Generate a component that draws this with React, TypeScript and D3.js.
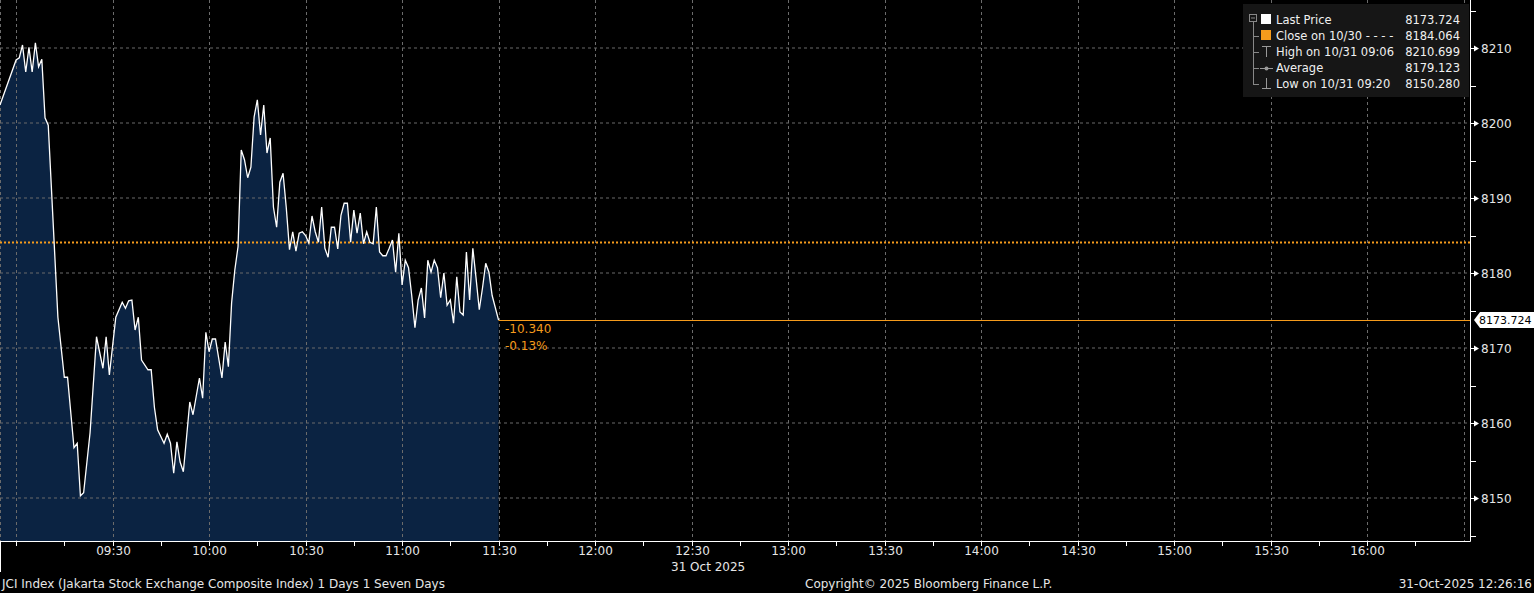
import React from "react";
import * as d3 from "d3";

const times: string[] = [
  "08:55","09:00","09:01","09:02","09:03","09:04","09:05","09:06","09:07","09:08","09:09","09:10",
  "09:13","09:15","09:16","09:18","09:19","09:20","09:21","09:23","09:25","09:27","09:28","09:29",
  "09:31","09:33","09:34","09:35","09:36","09:37","09:38","09:39","09:41","09:42","09:43","09:44",
  "09:46","09:47","09:48","09:49","09:50","09:51","09:52","09:53","09:54","09:55","09:57","09:58",
  "09:59","10:00","10:01","10:02","10:04","10:05","10:06","10:07","10:08","10:09","10:10","10:11",
  "10:12","10:13","10:14","10:15","10:16","10:17","10:18","10:19","10:20","10:21","10:22","10:23",
  "10:24","10:25","10:26","10:27","10:28","10:29","10:30","10:31","10:32","10:33","10:34","10:35",
  "10:36","10:37","10:38","10:39","10:40","10:41","10:42","10:43","10:44","10:45","10:46","10:47",
  "10:48","10:49","10:50","10:51","10:52","10:53","10:54","10:55","10:56","10:57","10:58","10:59",
  "11:00","11:01","11:02","11:03","11:04","11:05","11:06","11:07","11:08","11:09","11:10","11:11",
  "11:12","11:13","11:14","11:15","11:16","11:17","11:18","11:19","11:20","11:21","11:22","11:23",
  "11:24","11:25","11:26","11:27","11:28","11:30"
];
const prices: number[] = [
  8202.4,8208.4,8208.7,8210.4,8206.8,8210.1,8206.8,8210.7,8207.5,8208.5,8200.7,8199.7,
  8174.1,8166.1,8166.1,8156.7,8157.3,8150.3,8150.7,8158.7,8171.5,8167.3,8171.5,8166.4,
  8174.1,8176.1,8175.3,8176.3,8176.4,8172.4,8174.1,8168.4,8167.1,8167.1,8162.1,8159.1,
  8157.3,8158.5,8157.3,8153.3,8157.5,8154.8,8153.5,8158.1,8162.8,8161.1,8166.0,8163.3,
  8172.1,8169.5,8171.2,8171.2,8166.0,8170.8,8167.5,8176.0,8180.4,8183.5,8196.4,8195.1,
  8192.7,8194.1,8200.8,8203.1,8198.4,8202.4,8196.0,8198.0,8188.8,8186.1,8192.1,8193.3,
  8188.7,8183.1,8185.5,8182.9,8185.3,8185.5,8185.0,8184.0,8187.6,8185.5,8184.1,8188.8,
  8183.3,8182.1,8186.1,8186.1,8183.2,8187.7,8189.3,8189.3,8184.1,8188.4,8185.3,8188.0,
  8183.9,8185.5,8184.1,8183.9,8188.8,8182.8,8182.3,8182.3,8183.3,8184.4,8180.1,8185.3,
  8178.4,8181.7,8180.7,8177.0,8172.7,8176.4,8178.0,8174.0,8181.7,8180.1,8181.7,8180.7,
  8176.7,8180.0,8175.7,8176.4,8173.3,8179.5,8174.8,8174.4,8182.8,8176.4,8183.3,8179.3,
  8175.1,8178.0,8181.3,8180.1,8177.0,8173.724
];

const yTicks: number[] = [8150, 8160, 8170, 8180, 8190, 8200, 8210];
const yMinorTicks: number[] = [8145, 8155, 8165, 8175, 8185, 8195, 8205, 8215];
const xTickLabels: string[] = ["09:30","10:00","10:30","11:00","11:30","12:00","12:30","13:00","13:30","14:00","14:30","15:00","15:30","16:00"];
const xGridTimes: string[] = ["09:00","09:30","10:00","10:30","11:00","11:30","12:00","12:30","13:00","13:30","14:00","14:30","15:00","15:30","16:00","16:30"];
const xMinorTimes: string[] = ["09:00","09:15","09:45","10:15","10:45","11:15","11:45","12:15","12:45","13:15","13:45","14:15","14:45","15:15","15:45","16:15"];

const prevClose = 8184.064;
const lastPrice = 8173.724;
const change = "-10.340";
const changePct = "-0.13%";

const legendLabels: string[] = ["Last Price", "Close on 10/30 - - - -", "High on 10/31 09:06", "Average", "Low on 10/31 09:20"];
const legendValues: string[] = ["8173.724", "8184.064", "8210.699", "8179.123", "8150.280"];

const footerLeft = "JCI Index (Jakarta Stock Exchange Composite Index) 1 Days 1 Seven Days";
const footerMid = "Copyright\u00A9 2025 Bloomberg Finance L.P.";
const footerRight = "31-Oct-2025 12:26:16";
const dateLabel = "31 Oct 2025";

const W = 1534;
const H = 593;
const plotRight = 1470;
const plotBottom = 541;
const FONT = "'DejaVu Sans', sans-serif";
const ORANGE = "#f59b1c";
const GRID = "#6b6b6b";
const TXT = "#e6e6e6";

const parse = (s: string) => {
  const [h, m] = s.split(":").map(Number);
  return new Date(2025, 9, 31, h, m);
};

export default function App() {
  const x = d3.scaleTime().domain([parse("08:55"), parse("16:32")]).range([0, plotRight]);
  const y = d3.scaleLinear().domain([8144.267, 8216.4]).range([plotBottom, 0]);

  const data = times.map((t, i) => ({ t: parse(t), v: prices[i] }));
  const line = d3.line<{ t: Date; v: number }>().x(d => x(d.t)).y(d => y(d.v));
  const area = d3.area<{ t: Date; v: number }>().x(d => x(d.t)).y0(plotBottom).y1(d => y(d.v));

  const lastX = x(data[data.length - 1].t);
  const lastY = y(lastPrice);
  const closeY = y(prevClose);

  const rowY = [20, 36, 52, 68, 84];

  return (
    <svg width={W} height={H} style={{ position: "absolute", left: 0, top: 0, background: "#000" }} fontFamily={FONT}>
      <rect x={0} y={0} width={W} height={H} fill="#000" />
      <path d={area(data) || ""} fill="#0b2342" />
      {yTicks.map(v => (
        <line key={"gy" + v} x1={0} x2={plotRight} y1={y(v)} y2={y(v)} stroke={GRID} strokeDasharray="3,3" strokeWidth={1} />
      ))}
      {xGridTimes.map(t => (
        <line key={"gx" + t} x1={Math.round(x(parse(t))) + 0.5} x2={Math.round(x(parse(t))) + 0.5} y1={0} y2={plotBottom} stroke={GRID} strokeDasharray="3,3" strokeWidth={1} />
      ))}
      <line x1={0.5} x2={0.5} y1={0} y2={plotBottom} stroke={GRID} strokeDasharray="3,3" />
      <line x1={0} x2={plotRight} y1={closeY} y2={closeY} stroke={ORANGE} strokeWidth={2} strokeDasharray="2,2" />
      <path d={line(data) || ""} fill="none" stroke="#ffffff" strokeWidth={1.3} />
      <line x1={lastX} x2={plotRight} y1={Math.round(lastY) + 0.5} y2={Math.round(lastY) + 0.5} stroke={ORANGE} strokeWidth={1} />
      <text x={505} y={lastY + 13} fill={ORANGE} fontSize={12}>{change}</text>
      <text x={505} y={lastY + 30} fill={ORANGE} fontSize={12}>{changePct}</text>
      <line x1={0} x2={plotRight + 0.5} y1={plotBottom + 0.5} y2={plotBottom + 0.5} stroke="#fff" strokeWidth={1} />
      <line x1={plotRight + 0.5} x2={plotRight + 0.5} y1={0} y2={plotBottom + 0.5} stroke="#fff" strokeWidth={1} />
      <line x1={0.5} x2={0.5} y1={plotBottom} y2={572} stroke="#fff" strokeWidth={1} />
      {yMinorTicks.map(v => (
        <line key={"ym" + v} x1={plotRight} x2={plotRight + 6} y1={Math.round(y(v)) + 0.5} y2={Math.round(y(v)) + 0.5} stroke="#fff" />
      ))}
      {yTicks.map(v => {
        const yy = Math.round(y(v)) + 0.5;
        return (
          <g key={"yt" + v}>
            <line x1={plotRight} x2={plotRight + 4} y1={yy} y2={yy} stroke="#fff" />
            <path d={`M${plotRight + 4},${yy - 3} L${plotRight + 9},${yy} L${plotRight + 4},${yy + 3} Z`} fill="#fff" />
            <text x={plotRight + 11} y={yy + 4} fill={TXT} fontSize={12}>{v}</text>
          </g>
        );
      })}
      <path d={`M${plotRight + 4},${lastY} L${plotRight + 10},${lastY - 8} L${W},${lastY - 8} L${W},${lastY + 8} L${plotRight + 10},${lastY + 8} Z`} fill="#fff" />
      <text x={plotRight + 9} y={lastY + 4} fill="#000" fontSize={11}>{lastPrice.toFixed(3)}</text>
      {xMinorTimes.map(t => (
        <line key={"xm" + t} x1={Math.round(x(parse(t))) + 0.5} x2={Math.round(x(parse(t))) + 0.5} y1={plotBottom} y2={plotBottom + 5} stroke="#fff" />
      ))}
      {xTickLabels.map(t => {
        const xx = Math.round(x(parse(t))) + 0.5;
        return (
          <g key={"xt" + t}>
            <line x1={xx} x2={xx} y1={plotBottom} y2={plotBottom + 5} stroke="#fff" />
            <text x={xx} y={555} fill={TXT} fontSize={12} textAnchor="middle">{t}</text>
          </g>
        );
      })}
      <text x={671} y={571} fill={TXT} fontSize={12}>{dateLabel}</text>
      <text x={2} y={588} fill={TXT} fontSize={12}>{footerLeft}</text>
      <text x={805} y={588} fill={TXT} fontSize={12}>{footerMid}</text>
      <text x={1532} y={588} fill={TXT} fontSize={12} textAnchor="end">{footerRight}</text>
      <rect x={1243} y={4} width={226} height={93} fill="#161616" />
      <rect x={1249.5} y={14.5} width={7} height={7} fill="none" stroke="#888" />
      <line x1={1251} x2={1255} y1={18} y2={18} stroke="#888" />
      <line x1={1253.5} x2={1253.5} y1={22} y2={84.5} stroke="#888" />
      {rowY.slice(1).map(r => (
        <line key={"st" + r} x1={1253} x2={1259} y1={r + 0.5} y2={r + 0.5} stroke="#888" />
      ))}
      <rect x={1261} y={14} width={10} height={10} fill="#fff" />
      <rect x={1261} y={30} width={10} height={10} fill={ORANGE} />
      <line x1={1262} x2={1271} y1={46.5} y2={46.5} stroke="#999" />
      <line x1={1266.5} x2={1266.5} y1={46} y2={57} stroke="#999" />
      <line x1={1260} x2={1273} y1={68.5} y2={68.5} stroke="#999" />
      <circle cx={1266.5} cy={68.5} r={2} fill="#999" />
      <line x1={1266.5} x2={1266.5} y1={78} y2={89} stroke="#999" />
      <line x1={1262} x2={1271} y1={88.5} y2={88.5} stroke="#999" />
      {legendLabels.map((l, i) => (
        <text key={"ll" + i} x={1276} y={rowY[i] + 4} fill="#f0f0f0" fontSize={11.5}>{l}</text>
      ))}
      {legendValues.map((v, i) => (
        <text key={"lv" + i} x={1460} y={rowY[i] + 4} fill="#f0f0f0" fontSize={11.5} textAnchor="end">{v}</text>
      ))}
    </svg>
  );
}
